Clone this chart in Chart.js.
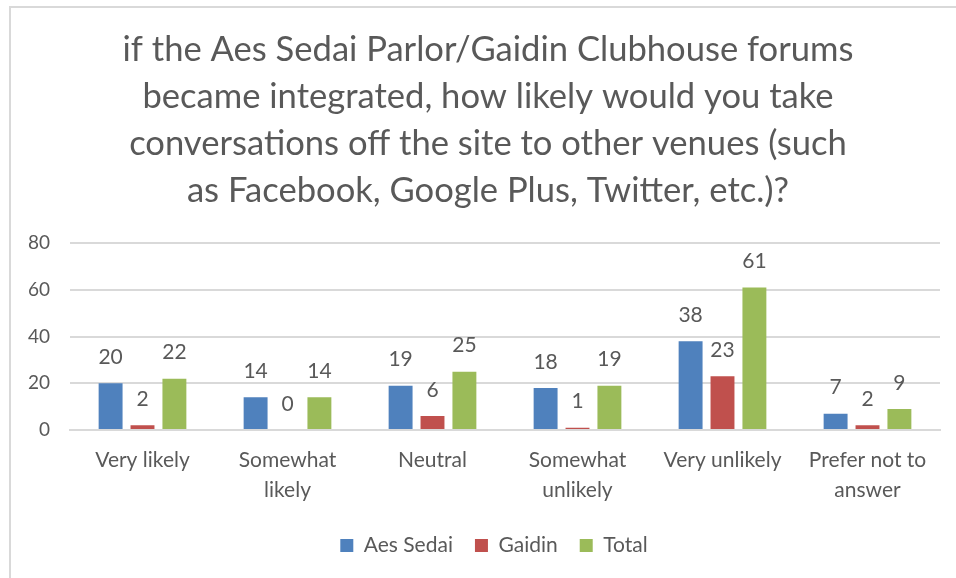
<!DOCTYPE html>
<html>
<head>
<meta charset="utf-8">
<script src="https://cdn.jsdelivr.net/npm/chart.js@4"></script>
<style>
  html, body { margin: 0; padding: 0; background: #ffffff; overflow: hidden; }
  #wrap { position: relative; width: 956px; height: 578px; overflow: hidden; }
  #frame {
      position: absolute; left: 9px; top: 6px; width: 1000px; height: 1000px;
      border-top: 2px solid #d9d9d9; border-left: 2px solid #d9d9d9;
  }
  canvas { position: absolute; left: 0; top: 0; }
</style>
</head>
<body>
<div id="wrap">
  <div id="frame"></div>
  <canvas id="likelyChart" width="956" height="578"></canvas>
</div>
<script>
// Survey answers
const categories = [
    'Very likely',
    ['Somewhat', 'likely'],
    'Neutral',
    ['Somewhat', 'unlikely'],
    'Very unlikely',
    ['Prefer not to', 'answer']
];
const aesSedai = [20, 14, 19, 18, 38, 7];
const gaidin = [2, 0, 6, 1, 23, 2];
const total = [22, 14, 25, 19, 61, 9];
const yTicks = [0, 20, 40, 60, 80];

const titleLines = [
    'if the Aes Sedai Parlor/Gaidin Clubhouse forums',
    'became integrated, how likely would you take',
    'conversations off the site to other venues (such',
    'as Facebook, Google Plus, Twitter, etc.)?'
];

const textColor = '#595959';
const fontFamily = 'Lato, "Open Sans", sans-serif';

/**
 * Draws the value above each bar
 */
const barValues = {
    id: 'barValues',
    afterDatasetsDraw(chart) {
        const ctx = chart.ctx;
        ctx.save();
        ctx.fillStyle = textColor;
        ctx.font = '21px ' + fontFamily;
        ctx.textAlign = 'center';
        ctx.textBaseline = 'middle';
        chart.data.datasets.forEach((ds, i) => {
            const meta = chart.getDatasetMeta(i);
            meta.data.forEach((bar, j) => {
                ctx.fillText(String(ds.data[j]), bar.x, bar.y - 26);
            });
        });
        ctx.restore();
    }
};

/**
 * Title and legend sit a little right of the canvas centre
 */
const nudgeBoxes = {
    id: 'nudgeBoxes',
    afterLayout(chart) {
        if (chart.titleBlock) chart.titleBlock.left += 29;
        if (chart.legend) chart.legend.left += 41;
    }
};

const canvas = document.getElementById('likelyChart');
new Chart(canvas.getContext('2d'), {
    type: 'bar',
    data: {
        labels: categories,
        datasets: [
            { label: 'Aes Sedai', data: aesSedai, backgroundColor: '#4f81bd' },
            { label: 'Gaidin', data: gaidin, backgroundColor: '#c0504d' },
            { label: 'Total', data: total, backgroundColor: '#9bbb59' }
        ]
    },
    options: {
        responsive: false,
        animation: false,
        datasets: {
            bar: { categoryPercentage: 0.66, barPercentage: 0.75 }
        },
        layout: { padding: { left: 7, right: 16, top: 26, bottom: 12 } },
        plugins: {
            title: {
                display: true,
                text: titleLines,
                color: textColor,
                font: { family: fontFamily, size: 34.6, weight: 'normal', lineHeight: 1.36 },
                padding: { top: 0, bottom: 29 }
            },
            legend: {
                display: true,
                position: 'bottom',
                labels: {
                    color: textColor,
                    boxWidth: 13,
                    boxHeight: 13,
                    padding: 22,
                    font: { family: fontFamily, size: 21 }
                }
            },
            tooltip: { enabled: false }
        },
        scales: {
            x: {
                afterFit(axis) {
                    axis.height = 83;
                },
                grid: { display: false, drawTicks: false },
                border: { color: '#d9d9d9', width: 2 },
                ticks: {
                    color: textColor,
                    font: { family: fontFamily, size: 21, lineHeight: 1.43 },
                    maxRotation: 0,
                    autoSkip: false,
                    padding: 15
                }
            },
            y: {
                min: 0,
                max: 80,
                afterBuildTicks(axis) {
                    axis.ticks = yTicks.map(v => ({ value: v }));
                },
                afterFit(axis) {
                    axis.width = 63;
                },
                grid: { color: '#d9d9d9', lineWidth: 2, drawTicks: false },
                border: { display: false },
                ticks: {
                    color: textColor,
                    font: { family: fontFamily, size: 19 },
                    padding: 20
                }
            }
        }
    },
    plugins: [barValues, nudgeBoxes]
});
</script>
</body>
</html>
